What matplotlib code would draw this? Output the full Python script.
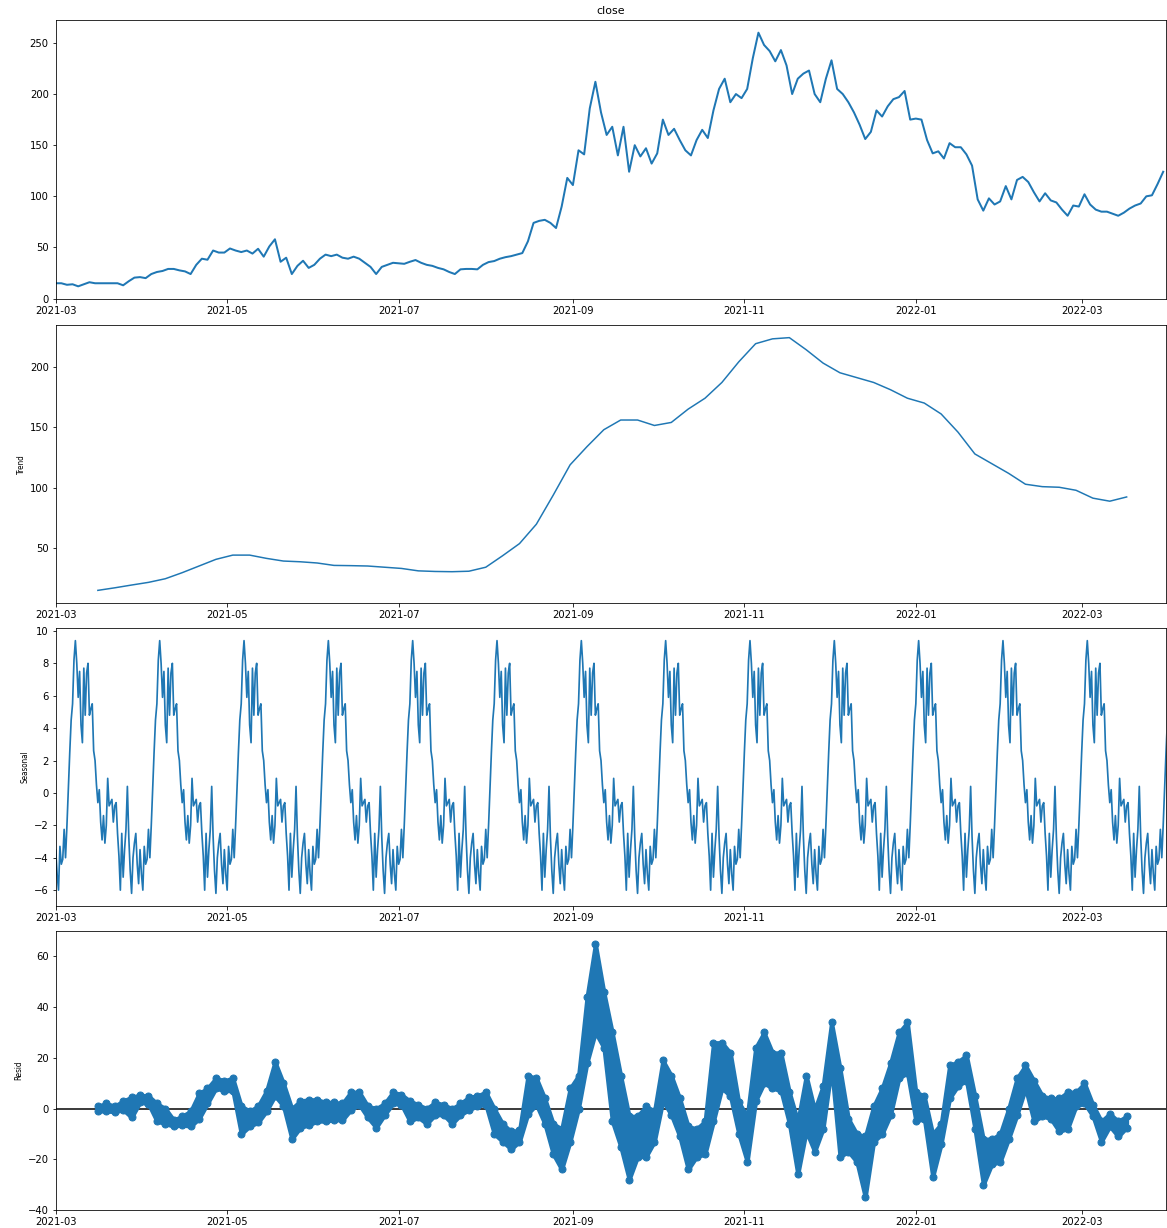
import numpy as np
import pandas as pd
import matplotlib
matplotlib.use("Agg")
import matplotlib.pyplot as plt
import matplotlib.dates as mdates

start = pd.Timestamp("2021-03-01")
end = pd.Timestamp("2022-03-31")

# close price, one value every 2 days from 2021-03-01
close = [15, 15, 13.5, 14, 12, 14, 16, 15, 15, 15,
         15, 15, 13, 17, 20.5, 21, 20, 24, 26, 27,
         29, 29, 27.6, 26.6, 24, 33, 39, 38, 47, 45,
         45, 49, 47, 45.5, 47, 44, 48.7, 41, 51, 58,
         36, 40, 24, 32, 37, 30, 33, 39, 43, 41.5,
         43, 40, 39, 41, 39, 35, 31, 24, 31, 33,
         35, 34.5, 34, 36, 37.7, 35, 33, 32, 30, 28.6,
         26, 24, 28.6, 29, 29, 28.6, 33, 35.7, 36.7, 39,
         40.5, 41.5, 43, 44.5, 56, 74, 76, 77, 74, 69,
         90, 118, 111, 145, 141, 186, 212, 182, 160, 168,
         140, 168, 124, 150, 139, 147, 132, 142, 175, 160,
         166, 155, 145, 140, 155, 165, 157, 184, 205, 215,
         192, 200, 196, 205, 235, 260, 248, 242, 232, 243,
         228, 200, 215, 220, 223, 200, 192, 215, 233, 205,
         200, 192, 182, 170, 156, 163, 184, 178, 188, 195,
         197, 203, 175, 176, 175, 155, 142, 144, 137, 152,
         148, 148, 141, 130, 97, 86, 98, 92, 95, 110,
         97, 116, 119, 114, 104, 95, 103, 96, 94, 87,
         81, 91, 90, 102, 92, 87, 85, 85, 83, 81,
         84, 88, 91, 93, 100, 101, 112, 124]

# trend, every 6 days starting 2021-03-16
trend = [15.4, 17.5, 19.8, 22, 25, 30, 35.5, 41, 44.5, 44.5,
         41.8, 39.6, 39, 38, 36, 35.8, 35.5, 34.5, 33.5, 31.5,
         31, 30.8, 31.2, 34.5, 44, 54, 70, 94, 119, 134,
         148, 156, 156, 151.5, 154, 165, 174, 187, 204, 219,
         223, 224, 214, 203, 195, 191, 187, 181, 174, 170,
         161, 146, 128, 120, 112, 103, 101, 100.5, 98, 91.5,
         89, 92.5]

# one 30 day seasonal cycle, half-day steps
season_cycle = [-4.0, -2.0, 0.3, 2.5, 4.5, 5.5, 8.2, 9.4, 8.0, 5.9,
                7.5, 4.2, 3.1, 7.7, 4.8, 7.4, 8.0, 4.8, 5.2, 5.5,
                2.6, 2.0, 0.5, -0.6, 0.2, -1.8, -2.9, -1.4, -3.1, -2.0,
                0.9, -0.8, -0.6, -0.4, -1.8, -0.8, -0.6, -2.5, -3.9, -6.0,
                -2.5, -5.2, -3.5, -2.25, 0.4, -2.7, -4.8, -6.2, -4.0, -3.1,
                -2.5, -4.4, -5.6, -3.5, -5.0, -6.0, -3.3, -4.4, -4.1, -2.25]

# residual band (upper / lower), every 3 days starting 2021-03-16
resid_hi = [1, 2, 1, 3, 4.5, 5.3, 5, 2, 0, -4.5,
            -3, -1, 6, 8, 12, 11, 12, 1, -1, 1,
            7, 18.5, 10, 0, 3, 3.5, 3.5, 2.5, 2.5, 2,
            6.5, 6.5, 1, 0, 2, 6.5, 5.5, 3, 1.5, 0,
            2.5, 1.5, 0, 2, 4.5, 5, 6.5, 0, -6, -9,
            -8.5, 13, 12, 4, -6, -8, 8, 13, 44, 65,
            46, 30, 13, -3, -3, 1, -1, 19, 13, 4,
            -7, -8, -5, 26, 26, 22, 2.5, -3, 24, 30,
            22, 22, 6.5, -5, 13, -0.5, 9, 34, 16, -4,
            -10, -11, 1, 8, 18, 30, 34, 6.5, 5, -10,
            -6, 17, 18.5, 21, 5, -12, -12, -10, 0, 12,
            17, 11, 5, 4, 4, 6.5, 6.5, 10, 1.5, -5,
            -2, -5, -3]
resid_lo = [-1, -1, -1.3, -0.5, -3.5, 2.5, 1.8, -5, -6, -7,
            -6.5, -7, -4, 2, 8, 7, 7, -10, -7, -5.5,
            -1, 5, 1, -12, -7.5, -6.5, -5, -5, -4.5, -4.5,
            -0.5, 1.5, -3.5, -7.5, -2.5, 2, 1.5, -5, -3.5, -6,
            -2.5, -2.5, -6, -2.5, -0.5, 1, 1.5, -10, -13, -16,
            -13, -2, 1.5, -6, -18, -24, -13, 0, 18, 30,
            24, -5, -15, -28, -19, -19, -13, 3, -2.5, -11,
            -24, -19, -18, -5, 8, 5, -10, -21, 3, 10,
            8, 7, -6, -26, -9, -17, -8, 16, -19, -17,
            -21, -35, -13, -10, -2.5, 12, 14, -5, -4, -27,
            -14, 4, 9, 11, -8, -30, -22, -21, -12, -2.5,
            8, -5, -3, -4, -9, -8, 1, 2, -3, -13,
            -7, -11, -7.5]

close_dates = pd.date_range(start, periods=len(close), freq="2D")
trend_dates = pd.date_range("2021-03-16", periods=len(trend), freq="6D")

seasonal = np.tile(season_cycle, 15)
season_dates = pd.date_range("2021-02-02 12:00", periods=len(seasonal), freq="12h")

resid_dates = pd.date_range("2021-03-16", periods=len(resid_hi), freq="3D")

W, H = 1167, 1228
fig = plt.figure(figsize=(W / 72, H / 72), dpi=72)
left = 55.7 / W
width = (1166 - 55.7) / W
tops = [20, 325, 628, 931]
bottoms = [299, 603, 906, 1210]
axes = [fig.add_axes([left, 1 - b / H, width, (b - t) / H]) for t, b in zip(tops, bottoms)]

blue = "#1f77b4"
axes[0].plot(close_dates, close, color=blue, lw=2)
axes[0].set_title("close", fontsize=11)

axes[1].plot(trend_dates, trend, color=blue, lw=1.5)
axes[1].set_ylabel("Trend")

axes[2].plot(season_dates, seasonal, color=blue, lw=1.7)
axes[2].set_ylabel("Seasonal")

# residuals: filled band between upper and lower points, dots on both edges
ax = axes[3]
ax.fill_between(resid_dates, resid_lo, resid_hi, color=blue, edgecolor=blue,
                lw=4, joinstyle="round")
ax.plot(resid_dates, resid_hi, "o", color=blue, ms=7)
ax.plot(resid_dates, resid_lo, "o", color=blue, ms=7)
ax.axhline(0, color="#000000", lw=1.5, zorder=-3)
ax.set_ylabel("Resid")

for ax in axes:
    ax.set_xlim(start, end)
    ax.xaxis.set_major_locator(mdates.MonthLocator(bymonth=[1, 3, 5, 7, 9, 11]))
    ax.xaxis.set_major_formatter(mdates.DateFormatter("%Y-%m"))
    ax.tick_params(labelsize=10)
    ax.yaxis.label.set_fontsize(8)
    ax.yaxis.label.set_fontstretch("condensed")

fig.savefig("out.png", dpi=72)
